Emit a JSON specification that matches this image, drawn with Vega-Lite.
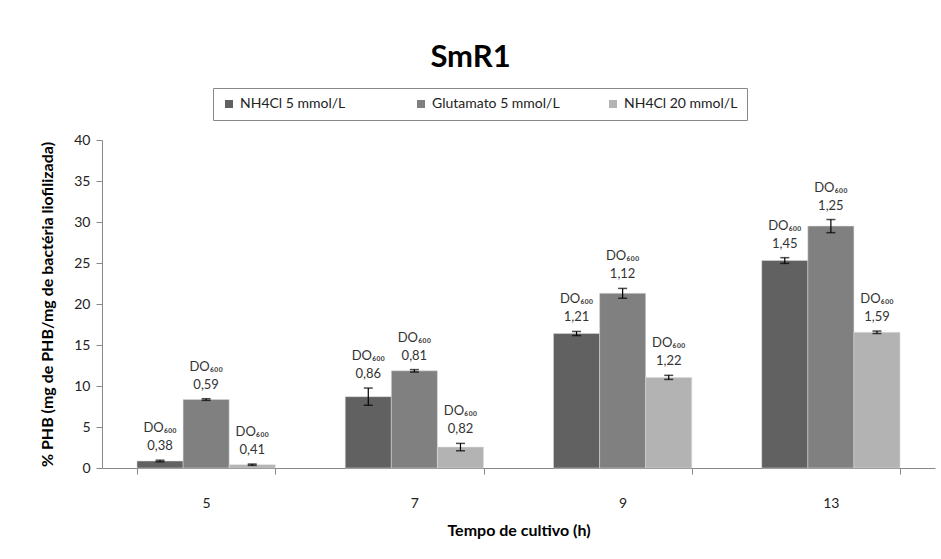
{
  "$schema": "https://vega.github.io/schema/vega-lite/v6.json",
  "width": 833,
  "height": 328,
  "autosize": {"type": "none"},
  "padding": {"left": 102, "top": 140, "right": 6, "bottom": 91},
  "background": "white",
  "title": {
    "text": "SmR1",
    "fontSize": 31,
    "fontWeight": "bold",
    "color": "#000000",
    "font": "Lato",
    "anchor": "middle",
    "frame": "group",
    "baseline": "alphabetic",
    "dx": -48,
    "dy": 30,
    "offset": 20
  },
  "data": {
    "values": [
      {"t": 5, "s": "NH4Cl 5 mmol/L", "v": 0.85, "lo": 0.75, "hi": 0.95, "do": "0,38"},
      {"t": 5, "s": "Glutamato  5 mmol/L", "v": 8.35, "lo": 8.25, "hi": 8.45, "do": "0,59"},
      {"t": 5, "s": "NH4Cl 20 mmol/L", "v": 0.4, "lo": 0.32, "hi": 0.48, "do": "0,41"},
      {"t": 7, "s": "NH4Cl 5 mmol/L", "v": 8.7, "lo": 7.65, "hi": 9.75, "do": "0,86"},
      {"t": 7, "s": "Glutamato  5 mmol/L", "v": 11.85, "lo": 11.7, "hi": 12.0, "do": "0,81"},
      {"t": 7, "s": "NH4Cl 20 mmol/L", "v": 2.55, "lo": 2.1, "hi": 3.0, "do": "0,82"},
      {"t": 9, "s": "NH4Cl 5 mmol/L", "v": 16.4, "lo": 16.15, "hi": 16.65, "do": "1,21"},
      {"t": 9, "s": "Glutamato  5 mmol/L", "v": 21.3, "lo": 20.7, "hi": 21.9, "do": "1,12"},
      {"t": 9, "s": "NH4Cl 20 mmol/L", "v": 11.05, "lo": 10.8, "hi": 11.3, "do": "1,22"},
      {"t": 13, "s": "NH4Cl 5 mmol/L", "v": 25.3, "lo": 24.95, "hi": 25.65, "do": "1,45"},
      {"t": 13, "s": "Glutamato  5 mmol/L", "v": 29.5, "lo": 28.7, "hi": 30.3, "do": "1,25"},
      {"t": 13, "s": "NH4Cl 20 mmol/L", "v": 16.55, "lo": 16.4, "hi": 16.7, "do": "1,59"}
    ]
  },
  "encoding": {
    "x": {
      "field": "t",
      "type": "ordinal",
      "scale": {"paddingInner": 0.336, "paddingOuter": 0.168},
      "axis": {
        "title": "Tempo de cultivo (h)",
        "labelAngle": 0,
        "tickBand": "extent",
        "tickSize": 6,
        "tickColor": "#888888",
        "domainColor": "#888888",
        "labelFontSize": 14,
        "labelColor": "#222222",
        "labelPadding": 22,
        "titleFontSize": 16,
        "titleFontWeight": "bold",
        "titleColor": "#000000",
        "titlePadding": 12
      }
    },
    "xOffset": {
      "field": "s",
      "type": "nominal",
      "sort": ["NH4Cl 5 mmol/L", "Glutamato  5 mmol/L", "NH4Cl 20 mmol/L"],
      "scale": {"paddingInner": 0, "paddingOuter": 0}
    }
  },
  "layer": [
    {
      "mark": {"type": "bar", "stroke": "#dddddd", "strokeWidth": 0.5},
      "encoding": {
        "y": {
          "field": "v",
          "type": "quantitative",
          "scale": {"domain": [0, 40], "nice": false},
          "axis": {
            "title": "% PHB (mg de PHB/mg de bactéria liofilizada)",
            "values": [0, 5, 10, 15, 20, 25, 30, 35, 40],
            "grid": false,
            "tickSize": 6,
            "tickColor": "#888888",
            "domainColor": "#888888",
            "labelFontSize": 14,
            "labelColor": "#222222",
            "labelPadding": 6,
            "titleFontSize": 16,
            "titleFontWeight": "bold",
            "titleColor": "#000000",
            "titlePadding": 18
          }
        },
        "color": {
          "field": "s",
          "type": "nominal",
          "scale": {
            "domain": ["NH4Cl 5 mmol/L", "Glutamato  5 mmol/L", "NH4Cl 20 mmol/L"],
            "range": ["#616161", "#808080", "#b3b3b3"]
          },
          "legend": {
            "title": null,
            "orient": "none",
            "legendX": 111,
            "legendY": -52,
            "direction": "horizontal",
            "gridAlign": "all",
            "strokeColor": "#888888",
            "padding": 9,
            "symbolType": "square",
            "symbolSize": 64,
            "symbolStrokeWidth": 0,
            "labelFontSize": 14,
            "labelColor": "#222222",
            "columnPadding": 42,
            "labelOffset": 4
          }
        }
      }
    },
    {
      "mark": {"type": "rule", "color": "#000000", "strokeWidth": 1.2},
      "encoding": {
        "y": {"field": "lo", "type": "quantitative"},
        "y2": {"field": "hi"}
      }
    },
    {
      "mark": {"type": "tick", "color": "#000000", "size": 9, "thickness": 1.5},
      "encoding": {"y": {"field": "lo", "type": "quantitative"}}
    },
    {
      "mark": {"type": "tick", "color": "#000000", "size": 9, "thickness": 1.5},
      "encoding": {"y": {"field": "hi", "type": "quantitative"}}
    },
    {
      "mark": {"type": "text", "baseline": "alphabetic", "dy": -10, "fontSize": 13, "color": "#333333"},
      "encoding": {
        "y": {"field": "hi", "type": "quantitative"},
        "text": {"field": "do"}
      }
    },
    {
      "mark": {"type": "text", "baseline": "alphabetic", "dy": -28, "fontSize": 13, "color": "#333333"},
      "encoding": {
        "y": {"field": "hi", "type": "quantitative"},
        "text": {"value": "DO₆₀₀"}
      }
    }
  ],
  "config": {
    "font": "Lato",
    "view": {"stroke": null}
  }
}
